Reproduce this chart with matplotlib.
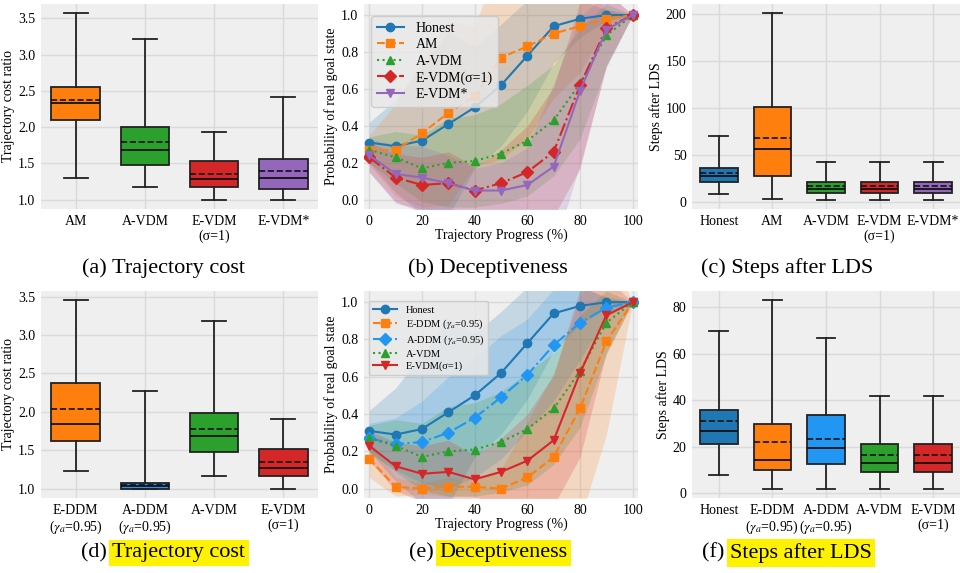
import matplotlib
matplotlib.use("Agg")
import matplotlib.pyplot as plt
import numpy as np

plt.rcParams['font.family'] = ['Liberation Serif', 'DejaVu Serif']
plt.rcParams['mathtext.fontset'] = 'stix'

# ---------------- data ----------------
progress = [0, 10, 20, 30, 40, 50, 60, 70, 80, 90, 100]

honest_mean = [0.31, 0.29, 0.32, 0.41, 0.50, 0.62, 0.78, 0.94, 0.98, 1.00, 1.00]
honest_std = [0.11, 0.25, 0.40, 0.50, 0.33, 0.33, 0.30, 0.20, 0.10, 0.03, 0.0]
am_mean = [0.27, 0.27, 0.36, 0.47, 0.56, 0.77, 0.83, 0.90, 0.94, 0.98, 1.00]
am_std = [0.08, 0.25, 0.40, 0.50, 0.38, 0.55, 0.50, 0.35, 0.25, 0.05, 0.0]
avdm_mean = [0.27, 0.23, 0.17, 0.20, 0.21, 0.25, 0.32, 0.43, 0.63, 0.89, 1.00]
avdm_std = [0.07, 0.14, 0.18, 0.24, 0.25, 0.27, 0.30, 0.30, 0.30, 0.17, 0.0]
evdm_mean = [0.23, 0.12, 0.08, 0.09, 0.05, 0.09, 0.15, 0.26, 0.62, 0.93, 1.00]
evdm_std = [0.08, 0.13, 0.15, 0.17, 0.13, 0.18, 0.25, 0.35, 0.45, 0.20, 0.0]
evdms_mean = [0.24, 0.14, 0.12, 0.09, 0.05, 0.05, 0.08, 0.18, 0.59, 0.92, 1.00]
evdms_std = [0.09, 0.16, 0.17, 0.15, 0.12, 0.15, 0.20, 0.45, 0.40, 0.20, 0.0]
eddm_mean = [0.16, 0.01, 0.00, 0.01, 0.01, 0.00, 0.06, 0.17, 0.43, 0.79, 1.00]
eddm_std = [0.10, 0.05, 0.03, 0.05, 0.05, 0.10, 0.30, 0.45, 0.60, 0.50, 0.0]
addm_mean = [0.27, 0.24, 0.25, 0.30, 0.38, 0.49, 0.61, 0.77, 0.89, 0.97, 1.00]
addm_std = [0.08, 0.14, 0.22, 0.30, 0.32, 0.33, 0.30, 0.30, 0.20, 0.05, 0.0]

# box stats: (whislo, q1, med, mean, q3, whishi)
cost_top_labels = ['AM', 'A-VDM', 'E-VDM\n(σ=1)', 'E-VDM*']
cost_top = [(1.30, 2.10, 2.33, 2.37, 2.55, 3.57),
            (1.17, 1.48, 1.69, 1.79, 2.00, 3.21),
            (1.00, 1.18, 1.28, 1.36, 1.53, 1.93),
            (1.00, 1.15, 1.30, 1.39, 1.56, 2.41)]
steps_top_labels = ['Honest', 'AM', 'A-VDM', 'E-VDM\n(σ=1)', 'E-VDM*']
steps_top = [(8, 21, 27, 31, 36, 70),
             (3, 27, 56, 68, 101, 201),
             (2, 9, 13, 16.5, 21, 42),
             (2, 9, 13, 16.5, 21, 42),
             (2, 9, 13, 16.5, 21, 42)]
cost_bot_labels = ['E-DDM\n($\\gamma_a$=0.95)', 'A-DDM\n($\\gamma_a$=0.95)', 'A-VDM', 'E-VDM\n(σ=1)']
cost_bot = [(1.23, 1.62, 1.84, 2.03, 2.38, 3.45),
            (1.00, 1.00, 1.03, 1.05, 1.07, 2.27),
            (1.17, 1.47, 1.68, 1.78, 1.98, 3.18),
            (1.00, 1.17, 1.27, 1.35, 1.51, 1.90)]
steps_bot_labels = ['Honest', 'E-DDM\n($\\gamma_a$=0.95)', 'A-DDM\n($\\gamma_a$=0.95)', 'A-VDM', 'E-VDM\n(σ=1)']
steps_bot = [(8, 21, 27, 31, 36, 70),
             (2, 10, 14.5, 22, 30, 83),
             (2, 12.5, 19.5, 23.5, 33.5, 67),
             (2, 9, 13, 16.5, 21, 42),
             (2, 9, 13, 16.5, 21, 42)]

C_BLUE = '#1f77b4'
C_ORANGE = '#ff7f0e'
C_GREEN = '#2ca02c'
C_RED = '#d62728'
C_PURPLE = '#9467bd'
C_LBLUE = '#2196f3'

BG = '#efefef'
GRID = '#dadada'
FS = 10

fig = plt.figure(figsize=(9.6, 5.73), dpi=100)


def style(ax):
    ax.set_facecolor(BG)
    for s in ax.spines.values():
        s.set_visible(False)
    ax.grid(True, color=GRID, lw=1.0)
    ax.set_axisbelow(True)
    ax.tick_params(length=0, labelsize=FS, pad=4)


def boxpanel(rect, stats, labels, colors, ylabel, yticks):
    ax = fig.add_axes(rect)
    style(ax)
    bs = []
    for (lo, q1, med, mean, q3, hi), lab in zip(stats, labels):
        bs.append(dict(whislo=lo, q1=q1, med=med, mean=mean, q3=q3, whishi=hi,
                       fliers=[], label=lab))
    art = ax.bxp(bs, widths=0.7, showmeans=True, meanline=True, patch_artist=True,
                 boxprops=dict(edgecolor='#222222', lw=1.3),
                 whiskerprops=dict(color='#222222', lw=1.3),
                 capprops=dict(color='#222222', lw=1.3),
                 medianprops=dict(color='#111111', lw=1.3),
                 meanprops=dict(color='#111111', lw=1.2, ls='--'))
    for p, c in zip(art['boxes'], colors):
        p.set_facecolor(c)
    ax.set_ylabel(ylabel, fontsize=FS, labelpad=2)
    ax.set_yticks(yticks)
    return ax


def linepanel(rect, series, legend_fs, hl):
    ax = fig.add_axes(rect)
    style(ax)
    x = np.array(progress)
    for mean, std, color, ls, mk, lab in series:
        m = np.array(mean)
        s = np.array(std)
        ax.fill_between(x, m - s, m + s, color=color, alpha=0.2, lw=0)
    for mean, std, color, ls, mk, lab in series:
        ax.plot(x, mean, color=color, ls=ls, marker=mk, ms=6, lw=1.5, label=lab)
    ax.set_xlim(-2, 102)
    ax.set_ylim(-0.05, 1.06)
    ax.set_xticks([0, 20, 40, 60, 80, 100])
    ax.set_yticks([0.0, 0.2, 0.4, 0.6, 0.8, 1.0])
    ax.set_xlabel('Trajectory Progress (%)', fontsize=FS, labelpad=1)
    ax.set_ylabel('Probability of real goal state', fontsize=FS, labelpad=2)
    leg = ax.legend(loc='upper left', fontsize=legend_fs, frameon=True, fancybox=True,
                    handlelength=hl, labelspacing=0.25, borderpad=0.4,
                    handletextpad=0.8, bbox_to_anchor=(0.0, 0.975))
    leg.get_frame().set_facecolor('#e8e8e8')
    leg.get_frame().set_edgecolor('#c8c8c8')
    leg.get_frame().set_alpha(0.85)
    return ax


top_b, top_h = 1 - 209 / 573, (209 - 4) / 573
bot_b, bot_h = 1 - 498 / 573, (498 - 291) / 573

boxpanel([41 / 960, top_b, 277 / 960, top_h], cost_top, cost_top_labels,
         [C_ORANGE, C_GREEN, C_RED, C_PURPLE], 'Trajectory cost ratio',
         [1.0, 1.5, 2.0, 2.5, 3.0, 3.5])
linepanel([364 / 960, top_b, 274 / 960, top_h],
          [(honest_mean, honest_std, C_BLUE, '-', 'o', 'Honest'),
           (am_mean, am_std, C_ORANGE, '--', 's', 'AM'),
           (avdm_mean, avdm_std, C_GREEN, ':', '^', 'A-VDM'),
           (evdm_mean, evdm_std, C_RED, '-.', 'D', 'E-VDM(σ=1)'),
           (evdms_mean, evdms_std, C_PURPLE, '-', 'v', 'E-VDM*')], 10, 2.0)
boxpanel([692 / 960, top_b, 268 / 960, top_h], steps_top, steps_top_labels,
         [C_BLUE, C_ORANGE, C_GREEN, C_RED, C_PURPLE], 'Steps after LDS',
         [0, 50, 100, 150, 200])

boxpanel([41 / 960, bot_b, 277 / 960, bot_h], cost_bot, cost_bot_labels,
         [C_ORANGE, C_LBLUE, C_GREEN, C_RED], 'Trajectory cost ratio',
         [1.0, 1.5, 2.0, 2.5, 3.0, 3.5])
linepanel([364 / 960, bot_b, 274 / 960, bot_h],
          [(honest_mean, honest_std, C_BLUE, '-', 'o', 'Honest'),
           (eddm_mean, eddm_std, C_ORANGE, '--', 's', 'E-DDM ($\\gamma_a$=0.95)'),
           (addm_mean, addm_std, C_LBLUE, '-.', 'D', 'A-DDM ($\\gamma_a$=0.95)'),
           (avdm_mean, avdm_std, C_GREEN, ':', '^', 'A-VDM'),
           (evdm_mean, evdm_std, C_RED, '-', 'v', 'E-VDM(σ=1)')], 7.5, 2.3)
boxpanel([692 / 960, bot_b, 268 / 960, bot_h], steps_bot, steps_bot_labels,
         [C_BLUE, C_ORANGE, C_LBLUE, C_GREEN, C_RED], 'Steps after LDS',
         [0, 20, 40, 60, 80])

# ---------------- captions ----------------
CAP_FS = 16
caps_top = [(163, '(a) ', 'Trajectory cost'), (488, '(b) ', 'Deceptiveness'), (787, '(c) ', 'Steps after LDS')]
caps_bot = [(163, '(d) ', 'Trajectory cost'), (488, '(e) ', 'Deceptiveness'), (787, '(f) ', 'Steps after LDS')]

for cx, p, t in caps_top:
    fig.text(cx / 960, 1 - 268 / 573, p + t, ha='center', va='center', fontsize=CAP_FS)

fig.canvas.draw()
r = fig.canvas.get_renderer()
for cx, p, t in caps_bot:
    full = fig.text(0, 0, p + t, fontsize=CAP_FS)
    wfull = full.get_window_extent(r).width
    full.remove()
    pre = fig.text(0, 0, p, fontsize=CAP_FS)
    wpre = pre.get_window_extent(r).width
    pre.remove()
    x0 = cx - wfull / 2
    y = 1 - 553 / 573
    fig.text(x0 / 960, y, p, ha='left', va='center', fontsize=CAP_FS)
    fig.text((x0 + wpre) / 960, y, t, ha='left', va='center', fontsize=CAP_FS,
             bbox=dict(facecolor='#fff200', edgecolor='none', pad=2.5))

fig.savefig('out.png', dpi=100, facecolor='white')
